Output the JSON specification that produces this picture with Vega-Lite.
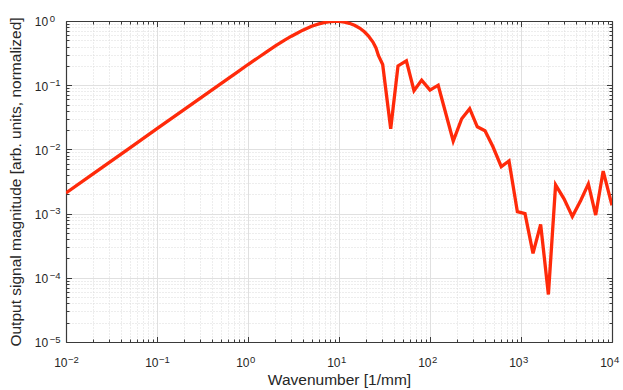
{
  "$schema": "https://vega.github.io/schema/vega-lite/v6.json",
  "width": 546,
  "height": 321,
  "autosize": {"type": "none"},
  "padding": {"left": 66, "top": 21, "right": 11, "bottom": 48},
  "background": "white",
  "config": {
    "view": {"stroke": null},
    "axis": {
      "labelFont": "Liberation Sans",
      "titleFont": "Liberation Sans",
      "labelColor": "#262626",
      "titleColor": "#262626",
      "titleFontWeight": "normal",
      "domainColor": "#3a3a3a",
      "tickColor": "#3a3a3a",
      "labelFlush": false,
      "labelOverlap": false,
      "labelBound": false
    }
  },
  "data": {
    "values": [
      {"wavenumber": 0.01, "magnitude": 0.0021},
      {"wavenumber": 0.02, "magnitude": 0.0042},
      {"wavenumber": 0.05, "magnitude": 0.0105},
      {"wavenumber": 0.1, "magnitude": 0.021},
      {"wavenumber": 0.2, "magnitude": 0.042},
      {"wavenumber": 0.5, "magnitude": 0.105},
      {"wavenumber": 0.75, "magnitude": 0.157},
      {"wavenumber": 1, "magnitude": 0.21},
      {"wavenumber": 1.3, "magnitude": 0.27},
      {"wavenumber": 1.6, "magnitude": 0.33},
      {"wavenumber": 2, "magnitude": 0.41},
      {"wavenumber": 2.5, "magnitude": 0.5},
      {"wavenumber": 3, "magnitude": 0.58},
      {"wavenumber": 3.5, "magnitude": 0.65},
      {"wavenumber": 4, "magnitude": 0.72},
      {"wavenumber": 5, "magnitude": 0.83},
      {"wavenumber": 6, "magnitude": 0.9},
      {"wavenumber": 7, "magnitude": 0.95},
      {"wavenumber": 8, "magnitude": 0.98},
      {"wavenumber": 9, "magnitude": 0.99},
      {"wavenumber": 10, "magnitude": 0.985},
      {"wavenumber": 11.5, "magnitude": 0.96},
      {"wavenumber": 13, "magnitude": 0.92},
      {"wavenumber": 15, "magnitude": 0.85},
      {"wavenumber": 17, "magnitude": 0.77},
      {"wavenumber": 19, "magnitude": 0.68},
      {"wavenumber": 21, "magnitude": 0.59},
      {"wavenumber": 23.6, "magnitude": 0.47},
      {"wavenumber": 25.5, "magnitude": 0.38},
      {"wavenumber": 27.1, "magnitude": 0.29},
      {"wavenumber": 30.2, "magnitude": 0.21},
      {"wavenumber": 37, "magnitude": 0.021},
      {"wavenumber": 44.5, "magnitude": 0.2},
      {"wavenumber": 55, "magnitude": 0.24},
      {"wavenumber": 66.7, "magnitude": 0.082},
      {"wavenumber": 81, "magnitude": 0.12},
      {"wavenumber": 100, "magnitude": 0.084},
      {"wavenumber": 123, "magnitude": 0.1},
      {"wavenumber": 180, "magnitude": 0.0135},
      {"wavenumber": 223, "magnitude": 0.03},
      {"wavenumber": 273, "magnitude": 0.043},
      {"wavenumber": 331, "magnitude": 0.0225},
      {"wavenumber": 402, "magnitude": 0.0195},
      {"wavenumber": 492, "magnitude": 0.011},
      {"wavenumber": 607, "magnitude": 0.0054},
      {"wavenumber": 738, "magnitude": 0.0066},
      {"wavenumber": 912, "magnitude": 0.00107},
      {"wavenumber": 1107, "magnitude": 0.001},
      {"wavenumber": 1355, "magnitude": 0.00024},
      {"wavenumber": 1644, "magnitude": 0.00068},
      {"wavenumber": 2000, "magnitude": 0.000055},
      {"wavenumber": 2400, "magnitude": 0.0028},
      {"wavenumber": 2970, "magnitude": 0.0017},
      {"wavenumber": 3667, "magnitude": 0.0009},
      {"wavenumber": 4530, "magnitude": 0.0016},
      {"wavenumber": 5500, "magnitude": 0.0029},
      {"wavenumber": 6620, "magnitude": 0.00095},
      {"wavenumber": 8000, "magnitude": 0.0046},
      {"wavenumber": 10000, "magnitude": 0.00135}
    ]
  },
  "layer": [
    {
      "mark": {"type": "line", "color": "#ff2a0a", "strokeWidth": 3.3, "strokeJoin": "miter", "clip": true},
      "encoding": {
        "x": {
          "field": "wavenumber", "type": "quantitative",
          "scale": {"type": "log", "domain": [0.01, 10000], "nice": false},
          "axis": {
            "orient": "bottom", "title": null, "labels": false,
            "values": [0.01,0.02,0.03,0.04,0.05,0.06,0.07,0.08,0.09,0.1,0.2,0.3,0.4,0.5,0.6,0.7,0.8,0.9,1,2,3,4,5,6,7,8,9,10,20,30,40,50,60,70,80,90,100,200,300,400,500,600,700,800,900,1000,2000,3000,4000,5000,6000,7000,8000,9000,10000],
            "grid": true,
            "gridColor": {"condition": {"test": "abs(log(datum.value)/LN10 - round(log(datum.value)/LN10)) < 0.001", "value": "#e0e0e0"}, "value": "#dadada"},
            "gridDash": {"condition": {"test": "abs(log(datum.value)/LN10 - round(log(datum.value)/LN10)) < 0.001", "value": []}, "value": [1, 2]},
            "gridWidth": 1,
            "ticks": true,
            "tickSize": {"condition": {"test": "abs(log(datum.value)/LN10 - round(log(datum.value)/LN10)) < 0.001", "value": -5.5}, "value": -3},
            "tickWidth": 1,
            "domain": true, "domainWidth": 1.2
          }
        },
        "y": {
          "field": "magnitude", "type": "quantitative",
          "scale": {"type": "log", "domain": [0.00001, 1], "nice": false},
          "axis": {
            "orient": "left", "title": null, "labels": false,
            "values": [0.00001,0.00002,0.00003,0.00004,0.00005,0.00006,0.00007,0.00008,0.00009,0.0001,0.0002,0.0003,0.0004,0.0005,0.0006,0.0007,0.0008,0.0009,0.001,0.002,0.003,0.004,0.005,0.006,0.007,0.008,0.009,0.01,0.02,0.03,0.04,0.05,0.06,0.07,0.08,0.09,0.1,0.2,0.3,0.4,0.5,0.6,0.7,0.8,0.9,1],
            "grid": true,
            "gridColor": {"condition": {"test": "abs(log(datum.value)/LN10 - round(log(datum.value)/LN10)) < 0.001", "value": "#e0e0e0"}, "value": "#dadada"},
            "gridDash": {"condition": {"test": "abs(log(datum.value)/LN10 - round(log(datum.value)/LN10)) < 0.001", "value": []}, "value": [1, 2]},
            "gridWidth": 1,
            "ticks": true,
            "tickSize": {"condition": {"test": "abs(log(datum.value)/LN10 - round(log(datum.value)/LN10)) < 0.001", "value": -5.5}, "value": -3},
            "tickWidth": 1,
            "domain": true, "domainWidth": 1.2
          }
        }
      }
    },
    {
      "mark": {"type": "line", "opacity": 0},
      "encoding": {
        "x": {
          "field": "wavenumber", "type": "quantitative",
          "scale": {"type": "log", "domain": [0.01, 10000], "nice": false},
          "axis": {
            "orient": "bottom",
            "values": [0.01, 0.1, 1, 10, 100, 1000, 10000],
            "labelExpr": "'10'",
            "labelAlign": "right", "labelBaseline": "alphabetic",
            "labelOffset": 1, "labelPadding": 24.7, "labelFontSize": 12,
            "ticks": false, "tickSize": 0, "domain": false, "grid": false,
            "title": "Wavenumber [1/mm]", "titleFontSize": 15.5,
            "titleX": 273, "titleY": 42.3, "titleAlign": "center", "titleBaseline": "alphabetic", "titleAnchor": "middle"
          }
        },
        "y": {
          "field": "magnitude", "type": "quantitative",
          "scale": {"type": "log", "domain": [0.00001, 1], "nice": false},
          "axis": {
            "orient": "left",
            "values": [0.00001, 0.0001, 0.001, 0.01, 0.1, 1],
            "labelExpr": "'10'",
            "labelAlign": "right", "labelBaseline": "alphabetic",
            "labelOffset": 4.8, "labelPadding": 18.3, "labelFontSize": 12,
            "ticks": false, "tickSize": 0, "domain": false, "grid": false,
            "title": "Output signal magnitude [arb. units, normalized]", "titleFontSize": 15.5,
            "titleX": -45.6, "titleY": 160.5, "titleAngle": 270, "titleAlign": "center", "titleBaseline": "alphabetic", "titleAnchor": "middle"
          }
        }
      }
    },
    {
      "mark": {"type": "line", "opacity": 0},
      "encoding": {
        "x": {
          "field": "wavenumber", "type": "quantitative",
          "scale": {"type": "log", "domain": [0.01, 10000], "nice": false},
          "axis": {
            "orient": "bottom", "title": null,
            "values": [0.01, 0.1, 1, 10, 100, 1000, 10000],
            "labelExpr": "(round(log(datum.value)/LN10) < 0 ? '\u2212' : '') + abs(round(log(datum.value)/LN10))",
            "labelAlign": "left", "labelBaseline": "alphabetic",
            "labelOffset": 1.5, "labelPadding": 20, "labelFontSize": 9.5,
            "ticks": false, "tickSize": 0, "domain": false, "grid": false
          }
        },
        "y": {
          "field": "magnitude", "type": "quantitative",
          "scale": {"type": "log", "domain": [0.00001, 1], "nice": false},
          "axis": {
            "orient": "left", "title": null,
            "values": [0.00001, 0.0001, 0.001, 0.01, 0.1, 1],
            "labelExpr": "(round(log(datum.value)/LN10) < 0 ? '\u2212' : '') + abs(round(log(datum.value)/LN10))",
            "labelAlign": "left", "labelBaseline": "alphabetic",
            "labelOffset": 0.3, "labelPadding": 16.8, "labelFontSize": 9.5,
            "ticks": false, "tickSize": 0, "domain": false, "grid": false
          }
        }
      }
    },
    {
      "mark": {"type": "line", "opacity": 0},
      "encoding": {
        "x": {
          "field": "wavenumber", "type": "quantitative",
          "scale": {"type": "log", "domain": [0.01, 10000], "nice": false},
          "axis": {
            "orient": "top", "title": null, "labels": false, "grid": false,
            "values": [0.01,0.02,0.03,0.04,0.05,0.06,0.07,0.08,0.09,0.1,0.2,0.3,0.4,0.5,0.6,0.7,0.8,0.9,1,2,3,4,5,6,7,8,9,10,20,30,40,50,60,70,80,90,100,200,300,400,500,600,700,800,900,1000,2000,3000,4000,5000,6000,7000,8000,9000,10000],
            "ticks": true,
            "tickSize": {"condition": {"test": "abs(log(datum.value)/LN10 - round(log(datum.value)/LN10)) < 0.001", "value": -5.5}, "value": -3},
            "tickWidth": 1,
            "domain": true, "domainWidth": 1.2
          }
        },
        "y": {
          "field": "magnitude", "type": "quantitative",
          "scale": {"type": "log", "domain": [0.00001, 1], "nice": false},
          "axis": {
            "orient": "right", "title": null, "labels": false, "grid": false,
            "values": [0.00001,0.00002,0.00003,0.00004,0.00005,0.00006,0.00007,0.00008,0.00009,0.0001,0.0002,0.0003,0.0004,0.0005,0.0006,0.0007,0.0008,0.0009,0.001,0.002,0.003,0.004,0.005,0.006,0.007,0.008,0.009,0.01,0.02,0.03,0.04,0.05,0.06,0.07,0.08,0.09,0.1,0.2,0.3,0.4,0.5,0.6,0.7,0.8,0.9,1],
            "ticks": true,
            "tickSize": {"condition": {"test": "abs(log(datum.value)/LN10 - round(log(datum.value)/LN10)) < 0.001", "value": -5.5}, "value": -3},
            "tickWidth": 1,
            "domain": true, "domainWidth": 1.2
          }
        }
      }
    }
  ],
  "resolve": {"axis": {"x": "independent", "y": "independent"}}
}
